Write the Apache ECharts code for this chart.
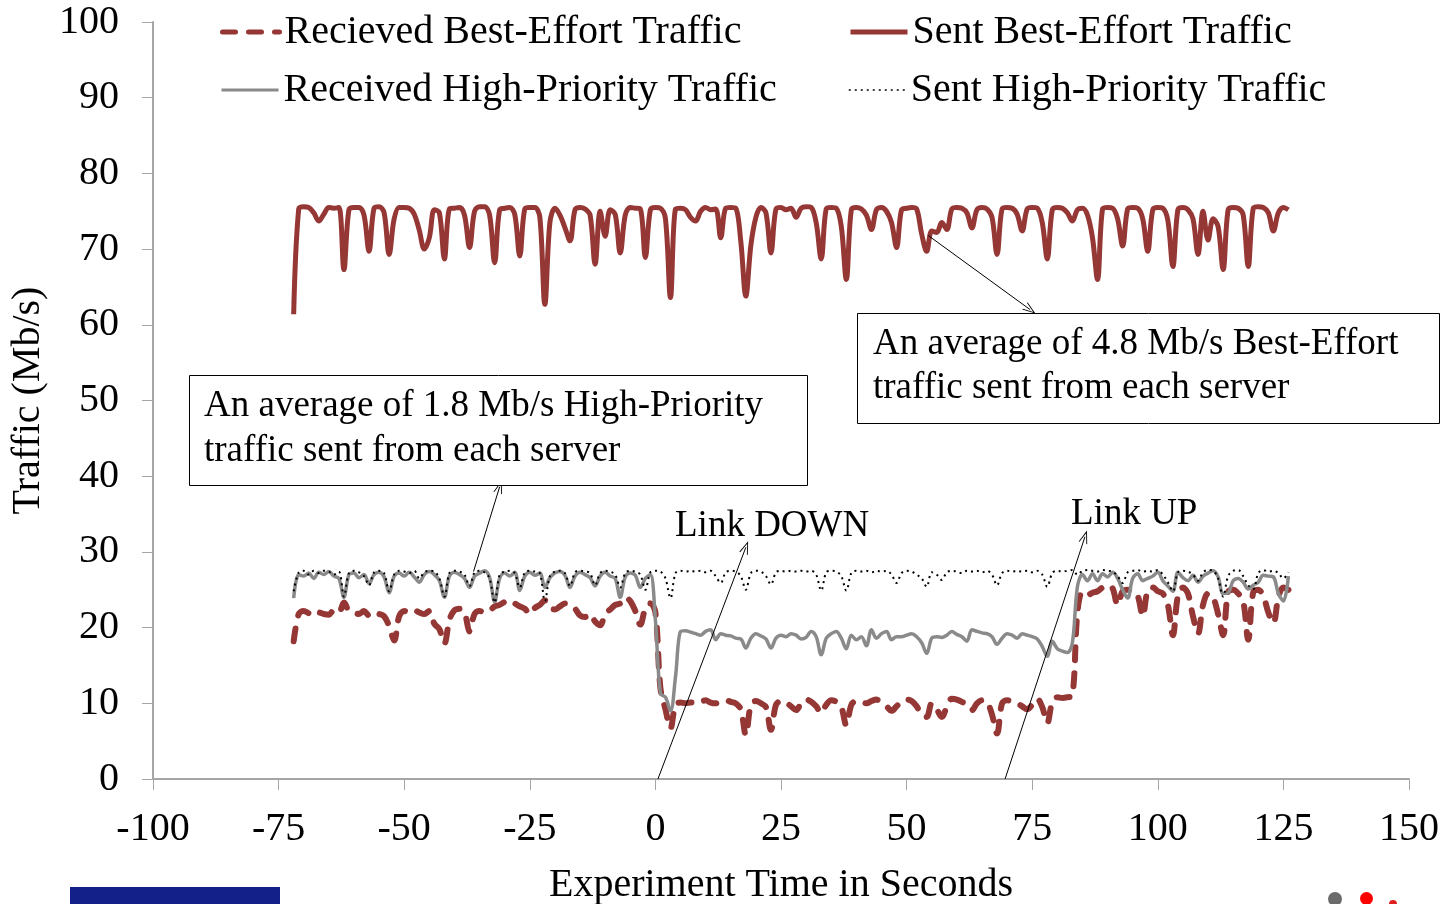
<!DOCTYPE html>
<html>
<head>
<meta charset="utf-8">
<script src="https://cdn.jsdelivr.net/npm/echarts@6/dist/echarts.min.js"></script>
<style>
html,body{margin:0;padding:0;background:#fff;}
#chart{width:1443px;height:904px;}
</style>
</head>
<body>
<div id="chart"></div>
<script>
// ---- data (one sample per second, first sample at t = -72 s) ----
const firstSecond = -72;
const xTicks = [-100, -75, -50, -25, 0, 25, 50, 75, 100, 125, 150];
const yTicks = [0, 10, 20, 30, 40, 50, 60, 70, 80, 90, 100];
const seriesNames = ['Recieved Best-Effort Traffic', 'Sent Best-Effort Traffic', 'Received High-Priority Traffic', 'Sent High-Priority Traffic'];

const sentBE = [
61.4,75.3,75.6,75.5,74.8,73.7,74.6,75.5,75.4,75.5,
67.3,75.2,75.5,75.5,74.5,69.7,75.4,75.6,74.8,69.3,
74.0,75.5,75.5,75.4,74.6,72.5,70.0,71.5,75.2,74.8,
68.7,75.3,75.4,75.5,74.5,70.2,75.0,75.6,75.6,74.5,
68.2,75.2,75.4,75.5,74.6,69.1,75.3,75.5,75.5,74.2,
62.7,73.5,75.4,74.5,72.8,71.1,75.2,75.5,75.3,74.5,
68.0,75.0,71.7,75.2,74.6,69.5,74.5,75.5,75.4,75.3,
68.9,75.2,75.5,75.4,74.0,63.6,75.3,75.4,75.2,74.2,
73.7,75.0,75.5,75.2,75.3,71.5,75.4,75.5,75.4,71.0,
63.8,70.5,74.2,75.5,74.8,69.5,75.3,75.5,75.2,75.4,
74.2,75.4,75.6,75.5,73.5,68.7,75.3,75.5,75.4,73.0,
66.0,75.2,75.5,75.3,74.5,72.6,75.2,75.5,75.0,73.5,
70.2,75.2,75.4,75.5,75.3,72.0,69.7,72.4,72.2,73.5,
72.6,75.3,75.5,75.4,74.8,72.8,75.2,75.5,75.3,74.2,
69.3,75.3,75.5,75.4,74.6,72.4,75.3,75.5,75.4,73.5,
68.7,75.2,75.5,75.4,74.8,73.7,75.2,75.4,74.5,71.5,
66.0,75.3,75.5,75.4,74.0,70.4,75.3,75.5,75.4,74.0,
69.7,75.2,75.5,75.4,73.8,67.7,75.2,75.5,75.2,74.0,
69.3,75.0,71.2,74.0,73.0,67.3,75.2,75.5,75.4,74.5,
67.7,75.4,75.6,75.5,74.8,72.4,74.8,75.5,75.2
];

const recvBE = [
18.2,21.8,22.2,21.9,21.6,22.0,21.8,21.7,22.3,22.0,
23.3,22.2,22.0,21.8,22.2,21.6,22.0,21.8,21.5,20.2,
18.3,21.5,22.2,22.0,22.3,22.0,21.8,22.2,20.5,19.8,
17.9,21.0,22.3,22.5,22.0,19.5,21.8,22.2,22.0,22.2,
22.8,23.0,23.4,23.6,23.2,22.8,22.5,21.8,22.6,23.0,
23.6,22.6,22.4,22.8,23.2,23.0,22.5,21.6,21.4,21.8,
20.8,20.3,21.8,22.4,23.0,23.2,24.0,23.5,22.2,20.4,
22.5,23.2,22.0,12.0,9.2,6.7,9.8,10.1,10.0,10.1,
10.0,10.2,10.4,10.1,10.0,10.2,10.4,10.2,10.0,9.2,
5.8,9.8,10.3,10.0,9.5,6.5,9.8,10.3,10.1,9.6,
9.1,10.0,10.5,10.2,9.6,8.7,9.8,10.4,10.2,9.5,
7.1,9.8,10.3,10.2,10.0,10.3,10.5,10.0,9.6,9.0,
9.6,10.2,10.5,10.3,9.6,8.5,8.2,10.0,9.2,8.2,
9.5,10.6,10.5,10.2,9.8,9.1,10.0,10.4,10.2,8.5,
6.0,10.0,10.4,10.2,10.0,9.6,9.2,9.8,10.6,9.5,
7.4,10.2,10.8,10.7,10.8,11.0,22.0,24.7,24.3,24.6,
24.8,25.3,25.6,25.2,23.0,24.8,25.0,24.8,24.2,21.5,
25.0,25.3,24.8,24.5,23.0,19.0,24.2,25.3,24.5,21.5,
19.2,23.0,24.5,24.0,21.8,19.0,24.7,25.0,24.5,23.5,
18.4,24.7,25.0,24.2,22.0,20.6,24.0,25.3,25.0
];

const recvHP = [
23.9,27.0,26.8,27.2,26.5,27.3,27.0,27.4,26.8,26.5,
24.0,27.0,27.2,26.6,27.0,25.8,27.0,27.3,26.7,24.6,
26.8,27.2,26.8,27.3,26.7,26.0,27.0,27.4,27.0,26.2,
24.0,26.8,27.3,27.0,26.5,25.3,26.8,27.2,27.5,26.6,
23.4,26.5,27.2,26.8,27.3,24.9,26.8,27.3,26.9,27.2,
25.3,26.6,27.2,27.4,26.9,25.3,26.8,27.3,27.0,26.6,
25.5,26.8,27.3,26.8,26.5,24.0,26.7,27.2,26.9,25.3,
26.5,27.0,21.0,11.3,10.8,9.0,13.5,19.5,19.6,19.4,
19.2,19.0,19.5,19.7,18.4,19.2,19.0,18.9,18.6,18.5,
17.3,18.6,19.2,18.9,18.5,17.3,18.6,19.0,18.8,19.2,
19.0,18.5,18.7,19.5,18.8,16.4,18.6,19.2,19.5,18.6,
17.2,19.0,18.4,18.8,17.6,19.7,18.6,19.2,19.5,18.4,
18.8,18.8,19.0,19.2,18.8,18.0,16.6,18.6,18.8,18.7,
19.0,19.5,19.1,18.8,18.2,19.7,19.5,19.3,19.2,18.8,
17.8,18.6,19.2,19.0,18.6,19.2,19.0,18.8,18.5,17.5,
16.2,18.2,17.2,16.9,16.7,18.0,25.4,27.0,26.2,27.1,
26.2,27.1,26.7,27.3,26.5,25.0,23.9,26.5,27.1,26.2,
26.5,26.8,27.3,26.2,25.5,24.8,27.3,26.6,26.2,26.9,
26.0,26.8,27.2,27.5,26.7,24.5,24.6,26.2,26.5,26.0,
25.1,25.6,26.0,26.9,26.8,26.7,24.5,23.5,26.8
];

const sentHP = [
24.8,27.3,27.5,27.0,27.5,27.2,27.5,27.4,27.0,27.4,
24.1,27.2,27.5,27.3,26.8,25.6,27.3,27.5,27.2,24.8,
27.0,27.5,27.4,27.2,27.5,26.5,27.3,27.5,27.4,26.5,
24.1,27.2,27.5,27.4,27.0,25.5,27.3,27.5,27.3,26.5,
23.3,27.0,27.4,27.5,27.2,25.3,27.3,27.5,27.4,27.2,
23.5,26.8,27.4,27.5,27.2,25.5,27.3,27.5,27.4,27.2,
25.6,27.2,27.5,27.4,27.0,25.3,27.2,27.5,27.4,27.0,
25.0,27.3,27.5,27.4,26.5,23.9,27.2,27.5,27.4,27.5,
27.4,27.5,27.3,27.5,26.8,25.9,27.3,27.5,27.4,26.8,
25.0,27.2,27.5,27.4,26.8,25.7,27.3,27.5,27.4,27.5,
27.4,27.5,27.4,27.5,27.0,24.9,27.3,27.5,27.4,26.8,
24.9,27.2,27.5,27.4,27.5,27.3,27.5,27.4,27.5,27.0,
25.9,27.2,27.5,27.4,27.0,26.5,25.4,27.3,27.0,26.3,
27.3,27.5,27.4,27.2,27.5,27.4,27.5,27.3,27.5,27.0,
25.6,27.2,27.5,27.4,27.5,27.4,27.5,27.3,27.5,27.0,
25.4,27.2,27.5,27.4,27.5,27.6,27.0,27.5,27.6,27.5,
27.4,27.6,27.5,27.4,26.8,25.9,27.3,27.5,27.6,27.4,
27.5,27.4,27.6,27.0,26.0,24.8,27.3,27.5,27.4,27.0,
26.2,27.3,27.6,27.5,26.5,24.1,26.8,27.5,27.6,26.8,
25.6,25.1,27.2,27.6,27.4,27.5,27.2,26.5,27.3
];

// annotation arrows in data coordinates [x, y]
const linkDownArrow = [[0.5, 0], [18.0, 30.6]];
const linkUpArrow = [[69.6, 0], [85.5, 32.0]];
const hpNoteArrow = [[-36.2, 27.4], [-31.0, 38.6]];
const beNoteArrow = [[54.3, 71.8], [74.6, 62.0]];

// ---- chart ----
const FONT = "'Liberation Serif', 'Times New Roman', serif";
const RED = '#953735';
const GRAY = '#8a8a8a';

function pairs(values) {
  return values.map((v, i) => [firstSecond + i, v]);
}
function arrowLine(a) {
  return [{ coord: a[0], symbol: 'none' }, { coord: a[1] }];
}
const chevron = 'path://M5,0 L10,12 L9,12 L5,2.5 L1,12 L0,12 Z';

const chart = echarts.init(document.getElementById('chart'), null, { renderer: 'canvas' });

function legendAt(name, left, top, lineWidth) {
  return {
    data: [name], left: left, top: top, padding: 0,
    itemWidth: 57, itemHeight: 14, selectedMode: false,
    itemStyle: { opacity: 0 },
    lineStyle: { width: lineWidth },
    textStyle: { fontFamily: FONT, fontSize: 40, color: '#000' }
  };
}

const axisFont = { fontFamily: FONT, fontSize: 40, color: '#000' };

const option = {
  animation: false,
  backgroundColor: '#fff',
  grid: { left: 153, right: 34, top: 22, bottom: 125, containLabel: false, outerBoundsMode: 'none' },
  legend: [
    legendAt(seriesNames[0], 220, 12, 5),
    legendAt(seriesNames[1], 848, 12, 5),
    legendAt(seriesNames[2], 220, 70, 3),
    legendAt(seriesNames[3], 848, 70, 1.5)
  ],
  xAxis: {
    type: 'value', min: xTicks[0], max: xTicks[xTicks.length - 1], interval: 25,
    name: 'Experiment Time in Seconds', nameLocation: 'middle', nameGap: 86,
    nameTextStyle: axisFont,
    axisLine: { onZero: false, lineStyle: { color: '#a6a6a6', width: 2 } },
    axisTick: { show: true, inside: false, length: 11, lineStyle: { color: '#a6a6a6', width: 1 } },
    axisLabel: Object.assign({ margin: 30 }, axisFont),
    splitLine: { show: false }
  },
  yAxis: {
    type: 'value', min: yTicks[0], max: yTicks[yTicks.length - 1], interval: 10,
    name: 'Traffic (Mb/s)', nameLocation: 'middle', nameGap: 104, nameRotate: 90,
    nameTextStyle: axisFont,
    axisLine: { show: true, onZero: false, lineStyle: { color: '#a6a6a6', width: 2 } },
    axisTick: { show: true, inside: false, length: 11, lineStyle: { color: '#a6a6a6', width: 1 } },
    axisLabel: Object.assign({ margin: 34 }, axisFont),
    splitLine: { show: false }
  },
  series: [
    {
      name: seriesNames[0], type: 'line', data: pairs(recvBE), symbol: 'none', smooth: 0.35,
      lineStyle: { color: RED, width: 6, type: [13, 13], cap: 'round' }, itemStyle: { color: RED },
      z: 2
    },
    {
      name: seriesNames[1], type: 'line', data: pairs(sentBE), symbol: 'none', smooth: 0.35,
      lineStyle: { color: RED, width: 5 }, itemStyle: { color: RED }, z: 2,
      markLine: {
        silent: true, symbol: ['none', chevron], symbolSize: [9, 13],
        label: { show: false },
        lineStyle: { color: '#000', width: 1, type: 'solid' },
        emphasis: { disabled: true },
        data: [arrowLine(linkDownArrow), arrowLine(linkUpArrow), arrowLine(hpNoteArrow), arrowLine(beNoteArrow)]
      }
    },
    {
      name: seriesNames[2], type: 'line', data: pairs(recvHP), symbol: 'none', smooth: 0.35,
      lineStyle: { color: GRAY, width: 3.5 }, itemStyle: { color: GRAY }, z: 3
    },
    {
      name: seriesNames[3], type: 'line', data: pairs(sentHP), symbol: 'none', smooth: 0.35,
      lineStyle: { color: '#000', width: 2, type: [2, 4] }, itemStyle: { color: '#000' }, z: 4
    }
  ],
  graphic: [
    { type: 'rect', left: 189, top: 375, z: 100, shape: { width: 618, height: 110 },
      style: { fill: '#fff', stroke: '#000', lineWidth: 1 } },
    { type: 'text', left: 204, top: 384, z: 101,
      style: { text: 'An average of 1.8 Mb/s High-Priority\ntraffic sent from each server', font: '37px ' + FONT, fill: '#000', lineHeight: 45 } },
    { type: 'rect', left: 857, top: 313, z: 100, shape: { width: 582, height: 110 },
      style: { fill: '#fff', stroke: '#000', lineWidth: 1 } },
    { type: 'text', left: 873, top: 322, z: 101,
      style: { text: 'An average of 4.8 Mb/s Best-Effort\ntraffic sent from each server', font: '37px ' + FONT, fill: '#000', lineHeight: 44 } },
    { type: 'text', left: 675, top: 508, z: 101,
      style: { text: 'Link DOWN', font: '37px ' + FONT, fill: '#000' } },
    { type: 'text', left: 1071, top: 496, z: 101,
      style: { text: 'Link UP', font: '37px ' + FONT, fill: '#000' } },
    { type: 'rect', left: 70, top: 887, z: 100, shape: { width: 210, height: 20 },
      style: { fill: '#14208a' } },
    { type: 'circle', left: 1328, top: 892, z: 100, shape: { r: 7 }, style: { fill: '#6b6b6b' } },
    { type: 'circle', left: 1360, top: 892, z: 100, shape: { r: 6.5 }, style: { fill: '#ff0000' } },
    { type: 'circle', left: 1389, top: 900, z: 100, shape: { r: 4 }, style: { fill: '#e02020' } }
  ]
};
chart.setOption(option);
</script>
</body>
</html>
